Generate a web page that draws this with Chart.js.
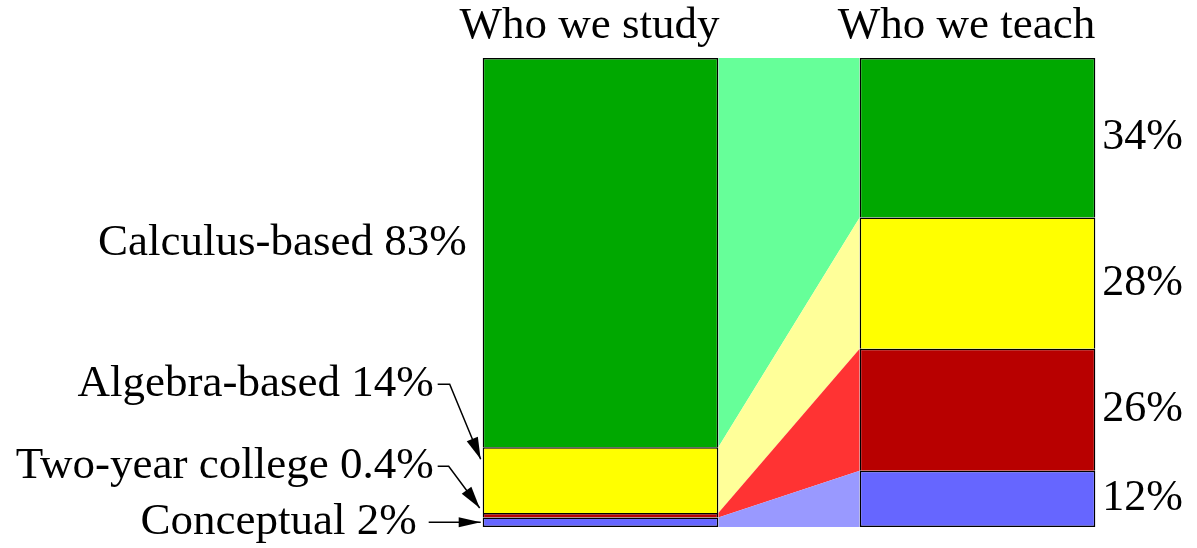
<!DOCTYPE html>
<html>
<head>
<meta charset="utf-8">
<script src="https://cdn.jsdelivr.net/npm/chart.js@4"></script>
<style>
html, body { margin: 0; padding: 0; background: #fff; }
#contenedor { width: 1197px; height: 548px; }
</style>
</head>
<body>
<div id="contenedor"><canvas id="grafico"></canvas></div>
<script>
// Categorías de curso, de abajo hacia arriba en cada barra
const categorias = ['Conceptual', 'Two-year college', 'Algebra-based', 'Calculus-based'];
const columnas = ['Who we study', 'Who we teach'];  // Títulos de las dos barras
const estudiamos = [2, 1, 14, 83];  // Alto dibujado de cada tramo en "Who we study"
const ensenamos = [12, 26, 28, 34];  // Porcentajes en "Who we teach"
const textoEstudio = ['Conceptual 2%', 'Two-year college 0.4%', 'Algebra-based 14%', 'Calculus-based 83%'];
const textoEnsenanza = ['12%', '26%', '28%', '34%'];

// Colores (fuertes para las barras, claros para los puentes)
const colorBarra = ['#6666ff', '#b80000', '#ffff00', '#00a800'];
const colorPuente = ['#9999ff', '#ff3333', '#ffff99', '#66ff99'];

const ANCHO = 0.625;  // Fracción de la categoría que ocupa cada barra
const xIzq = ANCHO / 2;  // Borde derecho de la barra izquierda (eje x2)
const xDer = 1 - ANCHO / 2;  // Borde izquierdo de la barra derecha (eje x2)
const FUENTE_IZQ = '45px "Liberation Serif"';
const FUENTE_DER = '44px "Liberation Serif"';

// Puentes entre barras: líneas apiladas con relleno
const puentes = categorias.map((cat, i) => ({
    type: 'line',
    label: cat + ' puente',
    xAxisID: 'x2',
    data: [{ x: xIzq, y: estudiamos[i] }, { x: xDer, y: ensenamos[i] }],
    backgroundColor: colorPuente[i],
    borderColor: 'rgba(0,0,0,0)',
    borderWidth: 0,
    pointRadius: 0,
    tension: 0,
    fill: i === 0 ? 'origin' : '-1',
    order: 2
}));

// Barras apiladas (sin borde inferior salvo el tramo de abajo, para no duplicar líneas)
const barras = categorias.map((cat, i) => ({
    type: 'bar',
    label: cat,
    data: [estudiamos[i], ensenamos[i]],
    backgroundColor: colorBarra[i],
    borderColor: '#000',
    borderWidth: 1.5,
    borderSkipped: i === 0 ? false : 'bottom',
    grouped: false,
    barPercentage: ANCHO,
    categoryPercentage: 1,
    order: 1
}));

// Dibuja una flecha con punta rellena siguiendo una lista de puntos
function flecha(ctx, puntos, largo, ancho) {
    ctx.beginPath();
    ctx.moveTo(puntos[0][0], puntos[0][1]);
    for (let k = 1; k < puntos.length; k++) ctx.lineTo(puntos[k][0], puntos[k][1]);
    ctx.stroke();
    const [px, py] = puntos[puntos.length - 2];
    const [tx, ty] = puntos[puntos.length - 1];
    const ang = Math.atan2(ty - py, tx - px);
    ctx.beginPath();
    ctx.moveTo(tx, ty);
    ctx.lineTo(tx - largo * Math.cos(ang) + ancho / 2 * Math.sin(ang), ty - largo * Math.sin(ang) - ancho / 2 * Math.cos(ang));
    ctx.lineTo(tx - largo * Math.cos(ang) - ancho / 2 * Math.sin(ang), ty - largo * Math.sin(ang) + ancho / 2 * Math.cos(ang));
    ctx.closePath();
    ctx.fill();
}

// Plugin para los textos de los lados y las flechas
const etiquetas = {
    id: 'etiquetas',
    afterDraw(chart) {
        const ctx = chart.ctx;
        const tramo = (i, j) => chart.getDatasetMeta(puentes.length + i).data[j];
        ctx.save();
        ctx.fillStyle = '#000';
        ctx.strokeStyle = '#000';
        ctx.lineWidth = 1.5;
        ctx.textBaseline = 'middle';

        // Porcentajes a la derecha de "Who we teach"
        ctx.font = FUENTE_DER;
        ctx.textAlign = 'left';
        categorias.forEach((cat, i) => {
            const b = tramo(i, 1);
            ctx.fillText(textoEnsenanza[i], b.x + b.width / 2 + 7, (b.y + b.base) / 2);
        });

        // Textos a la izquierda de "Who we study"
        ctx.font = FUENTE_IZQ;
        ctx.textAlign = 'right';
        const b0 = tramo(0, 0), b1 = tramo(1, 0), b2 = tramo(2, 0), b3 = tramo(3, 0);
        const borde = b0.x - b0.width / 2;  // Borde izquierdo de la barra

        const y3 = (b3.y + b3.base) / 2 - 9;
        ctx.fillText(textoEstudio[3], borde - 16, y3);

        const y0 = (b0.y + b0.base) / 2;
        ctx.fillText(textoEstudio[0], borde - 66, y0);
        flecha(ctx, [[borde - 54, y0], [borde - 2, y0]], 22, 10);

        const y1 = y0 - 56;
        ctx.fillText(textoEstudio[1], borde - 49, y1);
        flecha(ctx, [[borde - 45, y1], [borde - 34, y1], [borde - 3, b1.y - 5]], 22, 12);

        const y2 = y1 - 82;
        ctx.fillText(textoEstudio[2], borde - 49, y2);
        flecha(ctx, [[borde - 45, y2], [borde - 33, y2], [borde - 2, b2.y + 12]], 22, 12);

        ctx.restore();
    }
};

const ctx = document.getElementById('grafico').getContext('2d');
window.chart = new Chart(ctx, {
    type: 'bar',
    data: {
        labels: columnas,
        datasets: [...puentes, ...barras]
    },
    options: {
        responsive: true,
        maintainAspectRatio: false,
        animation: false,
        layout: { padding: { left: 412, right: 31, top: -6, bottom: 21 } },
        plugins: {
            legend: { display: false },
            tooltip: { enabled: false }
        },
        scales: {
            x: {
                type: 'category',
                position: 'top',
                stacked: true,
                offset: true,
                grid: { display: false, drawTicks: false },
                border: { display: false },
                ticks: {
                    font: { family: 'Liberation Serif', size: 45 },
                    color: '#000',
                    padding: 5,
                    labelOffset: -11,
                    maxRotation: 0,
                    autoSkip: false
                }
            },
            x2: { type: 'linear', display: false, offset: false, min: -0.5, max: 1.5 },
            y: { stacked: true, display: false, min: 0, max: 100 }
        }
    },
    plugins: [etiquetas]
});
</script>
</body>
</html>
